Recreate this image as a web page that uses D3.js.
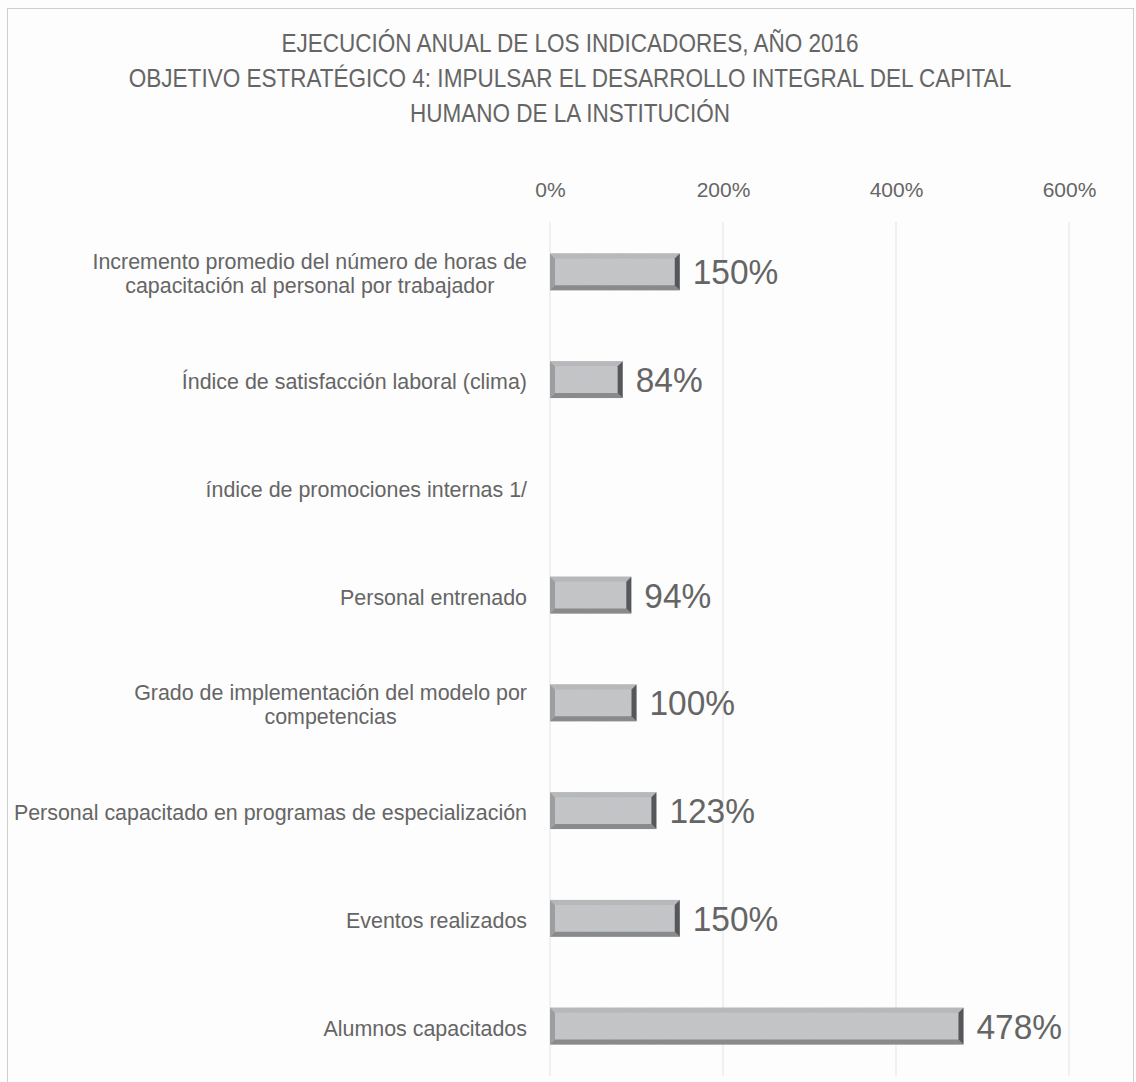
<!DOCTYPE html>
<html>
<head>
<meta charset="utf-8">
<script src="https://cdn.jsdelivr.net/npm/d3@7"></script>
<style>
  body { margin: 0; background: #fdfdfd; }
  text { font-family: "Liberation Sans", Arial, sans-serif; fill: #656565; }
</style>
</head>
<body>
<div id="container"></div>
<script>
let titleLines = [
  "EJECUCIÓN ANUAL DE LOS INDICADORES, AÑO 2016",
  "OBJETIVO ESTRATÉGICO 4: IMPULSAR EL DESARROLLO INTEGRAL DEL CAPITAL",
  "HUMANO DE LA INSTITUCIÓN"
];
let categories = [
  ["Incremento promedio del número de horas de", "capacitación al personal por trabajador"],
  ["Índice de satisfacción laboral (clima)"],
  ["índice de promociones internas 1/"],
  ["Personal entrenado"],
  ["Grado de implementación del modelo por", "competencias"],
  ["Personal capacitado en programas de especialización"],
  ["Eventos realizados"],
  ["Alumnos capacitados"]
];
let values = [1.50, 0.84, null, 0.94, 1.00, 1.23, 1.50, 4.78];
let tickValues = [0, 2, 4, 6];

let w = 1136;
let h = 1082;
let plotLeft = 550;
let plotRight = 1069;
let plotTop = 218;
let plotBottom = 1080;
let squeeze = 0.94;   // narrow-font look

let viz = d3.select("#container")
  .append("svg")
  .attr("width", w)
  .attr("height", h);

// frame
viz.append("rect")
  .attr("x", 7.5).attr("y", 8.5)
  .attr("width", 1126).attr("height", 1082)
  .attr("fill", "#fdfdfd")
  .attr("stroke", "#cfcfcf");

// grainy texture for the bars
let defs = viz.append("defs");
let grain = defs.append("filter").attr("id", "grain")
  .attr("x", 0).attr("y", 0).attr("width", 1).attr("height", 1);
grain.append("feTurbulence")
  .attr("type", "fractalNoise").attr("baseFrequency", 0.9)
  .attr("numOctaves", 2).attr("seed", 3).attr("result", "noise");
grain.append("feColorMatrix")
  .attr("in", "noise").attr("type", "matrix")
  .attr("values", "0 0 0 0 0.45  0 0 0 0 0.46  0 0 0 0 0.47  0 0 0 0.35 0")
  .attr("result", "dots");
grain.append("feComposite").attr("in", "dots").attr("in2", "SourceGraphic").attr("operator", "in").attr("result", "d2");
let merge = grain.append("feMerge");
merge.append("feMergeNode").attr("in", "SourceGraphic");
merge.append("feMergeNode").attr("in", "d2");

// title (squeezed horizontally)
viz.append("g")
  .attr("transform", "scale(0.85,1)")
  .selectAll("text")
  .data(titleLines)
  .enter()
  .append("text")
  .attr("x", 570 / 0.85)
  .attr("y", function(d, i) { return 52 + i * 35; })
  .attr("text-anchor", "middle")
  .style("font-size", "26.5px")
  .text(function(d) { return d; });

let xScale = d3.scaleLinear().domain([0, 6]).range([plotLeft, plotRight]);
let yScale = d3.scaleBand()
  .domain(d3.range(categories.length))
  .range([plotTop, plotBottom])
  .paddingInner(0.657)
  .paddingOuter(0.3285);

// gridlines
viz.append("g").selectAll("line")
  .data(tickValues)
  .enter()
  .append("line")
  .attr("x1", function(d) { return xScale(d); })
  .attr("x2", function(d) { return xScale(d); })
  .attr("y1", 222)
  .attr("y2", 1076)
  .attr("stroke", "#e6e8e8")
  .attr("stroke-width", 1.2);

// top axis labels
let xAxis = d3.axisTop(xScale)
  .tickValues(tickValues)
  .tickFormat(d3.format(".0%"))
  .tickSize(0)
  .tickPadding(0);
let xAxisGroup = viz.append("g")
  .attr("class", "xaxisgroup")
  .attr("transform", "translate(0,197)")
  .call(xAxis);
xAxisGroup.select(".domain").remove();
xAxisGroup.selectAll("text")
  .style("font-size", "21px")
  .style("font-family", "\"Liberation Sans\", Arial, sans-serif")
  .attr("fill", "#747474");

// category labels, lines centred on each other, block right-aligned
let labelGroup = viz.append("g").attr("transform", "scale(" + squeeze + ",1)");
categories.forEach(function(lines, i) {
  let cy = yScale(i) + yScale.bandwidth() / 2 + 2;
  let g = labelGroup.append("g");
  let texts = g.selectAll("text")
    .data(lines)
    .enter()
    .append("text")
    .attr("y", function(d, j) { return cy + (j - (lines.length - 1) / 2) * 24 + 7.5; })
    .attr("text-anchor", "middle")
    .style("font-size", "22.8px")
    .text(function(d) { return d; });
  let maxW = 0;
  texts.each(function() { maxW = Math.max(maxW, this.getComputedTextLength()); });
  texts.attr("x", 527 / squeeze - maxW / 2);
});

// bevelled bars
let barData = values
  .map(function(v, i) { return { v: v, i: i }; })
  .filter(function(d) { return d.v != null; });

let bars = viz.append("g").selectAll("g")
  .data(barData)
  .enter()
  .append("g");

function face(pts) {
  return pts.map(function(p) { return p.join(","); }).join(" ");
}

let bev = 5;
bars.append("rect")
  .attr("x", xScale(0))
  .attr("y", function(d) { return yScale(d.i); })
  .attr("width", function(d) { return xScale(d.v) - xScale(0); })
  .attr("height", yScale.bandwidth())
  .attr("fill", "#c6c8ca")
  .attr("filter", "url(#grain)");
// top bevel
bars.append("polygon")
  .attr("points", function(d) {
    let x0 = xScale(0), x1 = xScale(d.v), y0 = yScale(d.i);
    return face([[x0, y0], [x1, y0], [x1 - bev, y0 + bev], [x0 + bev, y0 + bev]]);
  })
  .attr("fill", "#b6b8ba");
// left bevel
bars.append("polygon")
  .attr("points", function(d) {
    let x0 = xScale(0), y0 = yScale(d.i), y1 = y0 + yScale.bandwidth();
    return face([[x0, y0], [x0 + bev, y0 + bev], [x0 + bev, y1 - bev], [x0, y1]]);
  })
  .attr("fill", "#9c9ea0");
// bottom bevel
bars.append("polygon")
  .attr("points", function(d) {
    let x0 = xScale(0), x1 = xScale(d.v), y1 = yScale(d.i) + yScale.bandwidth();
    return face([[x0, y1], [x0 + bev, y1 - bev], [x1 - bev, y1 - bev], [x1, y1]]);
  })
  .attr("fill", "#888a8c");
// right bevel
bars.append("polygon")
  .attr("points", function(d) {
    let x1 = xScale(d.v), y0 = yScale(d.i), y1 = y0 + yScale.bandwidth();
    return face([[x1, y0], [x1, y1], [x1 - bev, y1 - bev], [x1 - bev, y0 + bev]]);
  })
  .attr("fill", "#55575a");

// value labels
bars.append("text")
  .attr("transform", function(d) {
    return "translate(" + (xScale(d.v) + 13) + "," + (yScale(d.i) + yScale.bandwidth() / 2 + 12.5) + ") scale(0.93,1)";
  })
  .style("font-size", "36px")
  .text(function(d) { return Math.round(d.v * 100) + "%"; });
</script>
</body>
</html>
